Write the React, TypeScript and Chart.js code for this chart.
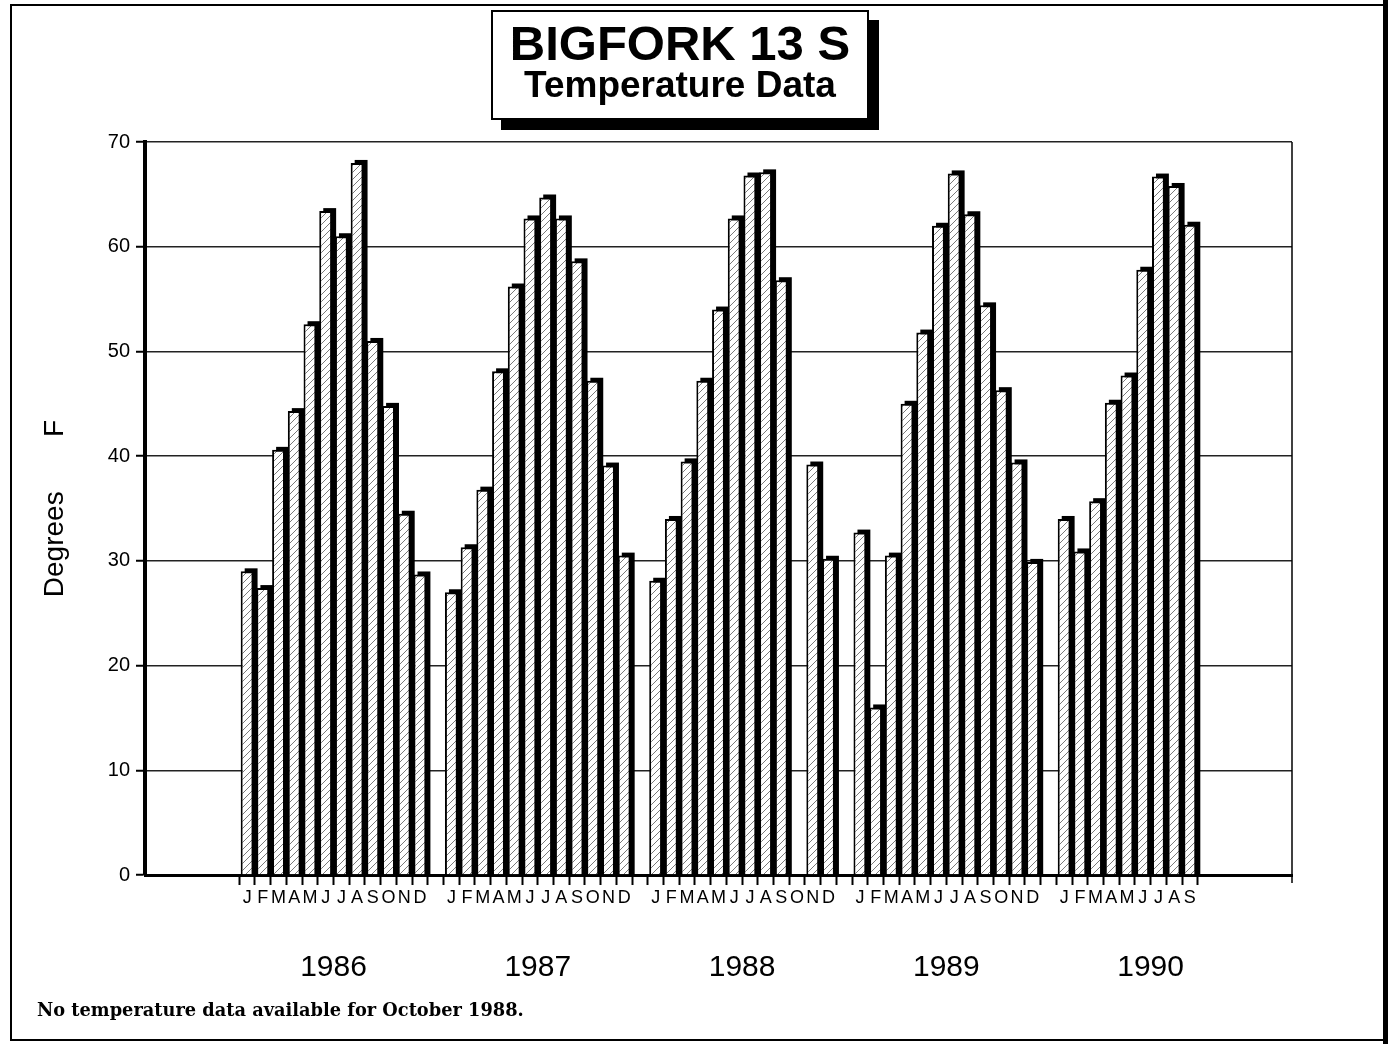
import React, { useEffect, useRef } from 'react';
import { Chart, registerables } from 'chart.js';

Chart.register(...registerables);

// ---- Data ----
const monthLetters = ['J', 'F', 'M', 'A', 'M', 'J', 'J', 'A', 'S', 'O', 'N', 'D'];
const years = ['1986', '1987', '1988', '1989', '1990'];
const temps1986 = [29.0, 27.4, 40.6, 44.3, 52.6, 63.4, 61.0, 68.0, 51.0, 44.8, 34.5, 28.7];
const temps1987 = [27.0, 31.3, 36.8, 48.1, 56.2, 62.7, 64.7, 62.7, 58.6, 47.2, 39.1, 30.5];
const temps1988 = [28.1, 34.0, 39.5, 47.2, 54.0, 62.7, 66.8, 67.1, 56.8, null, 39.2, 30.2];
const temps1989 = [32.7, 16.0, 30.5, 45.0, 51.8, 62.0, 67.0, 63.1, 54.4, 46.3, 39.4, 29.9];
const temps1990 = [34.0, 30.9, 35.7, 45.1, 47.7, 57.8, 66.7, 65.8, 62.1];
const yearSeries: (number | null)[][] = [temps1986, temps1987, temps1988, temps1989, temps1990];
const yTickValues = [0, 10, 20, 30, 40, 50, 60, 70];
const yTitle = 'Degrees       F';
const titleLine1 = 'BIGFORK 13 S';
const titleLine2 = 'Temperature Data';
const footnote = 'No temperature data available for October 1988.';

const LEADING_SLOTS = 6;
const TRAILING_SLOTS = 6;

const FONT = '"Liberation Sans", Arial, Helvetica, sans-serif';

// Build the category table for the library
const labels: string[] = [];
const values: (number | null)[] = [];
const yearCenters: { year: string; a: number; b: number }[] = [];
for (let i = 0; i < LEADING_SLOTS; i++) { labels.push(''); values.push(null); }
yearSeries.forEach((series, yi) => {
  const start = labels.length;
  series.forEach((v, mi) => { labels.push(monthLetters[mi]); values.push(v); });
  yearCenters.push({ year: years[yi], a: start + 5, b: start + 6 });
  if (yi < yearSeries.length - 1) { labels.push(''); values.push(null); }
});
const firstDataSlot = LEADING_SLOTS;
const lastDataSlotEdge = labels.length; // right edge of last data slot
for (let i = 0; i < TRAILING_SLOTS; i++) { labels.push(''); values.push(null); }

function makeHatch(ctx: CanvasRenderingContext2D): CanvasPattern | string {
  const c = document.createElement('canvas');
  c.width = 7; c.height = 7;
  const p = c.getContext('2d');
  if (!p) return '#fff';
  p.fillStyle = '#fff';
  p.fillRect(0, 0, 7, 7);
  p.strokeStyle = '#7a7a7a';
  p.lineWidth = 1;
  p.beginPath();
  p.moveTo(0, 7); p.lineTo(7, 0);
  p.moveTo(-2, 2); p.lineTo(2, -2);
  p.moveTo(5, 9); p.lineTo(9, 5);
  p.stroke();
  return ctx.createPattern(c, 'repeat') || '#fff';
}

const shadowPlugin = {
  id: 'barShadow',
  beforeDatasetsDraw(chart: any) {
    const meta = chart.getDatasetMeta(0);
    const data = chart.data.datasets[0].data;
    const ctx = chart.ctx;
    ctx.save();
    ctx.fillStyle = '#000';
    meta.data.forEach((bar: any, i: number) => {
      if (data[i] == null) return;
      const { x, y, base, width } = bar.getProps(['x', 'y', 'base', 'width'], true);
      ctx.fillRect(x - width / 2 + 4, y - 3, width, base - y + 3);
    });
    ctx.restore();
  },
  afterDraw(chart: any) {
    const ctx = chart.ctx;
    const xs = chart.scales.x;
    const area = chart.chartArea;
    ctx.save();
    // right frame of plot
    ctx.strokeStyle = '#000';
    ctx.lineWidth = 1.5;
    ctx.beginPath();
    ctx.moveTo(area.right, area.top);
    ctx.lineTo(area.right, area.bottom + 8);
    ctx.stroke();
    // year labels
    ctx.fillStyle = '#000';
    ctx.font = '30px ' + FONT;
    ctx.textAlign = 'center';
    ctx.textBaseline = 'middle';
    yearCenters.forEach((yc) => {
      const x = (xs.getPixelForValue(yc.a) + xs.getPixelForValue(yc.b)) / 2;
      ctx.fillText(yc.year, x, area.bottom + 93);
    });
    ctx.restore();
  },
};

export default function App() {
  const ref = useRef<HTMLCanvasElement | null>(null);

  useEffect(() => {
    const canvas = ref.current;
    if (!canvas) return;
    const ctx = canvas.getContext('2d');
    if (!ctx) return;
    const hatch = makeHatch(ctx);
    const chart = new Chart(canvas, {
      type: 'bar',
      data: {
        labels,
        datasets: [
          {
            data: values,
            backgroundColor: hatch as any,
            borderColor: '#000',
            borderWidth: 2,
            barPercentage: 0.82,
            categoryPercentage: 1.0,
          },
        ],
      },
      options: {
        responsive: false,
        animation: false,
        devicePixelRatio: 1,
        layout: { padding: { left: 0, top: 142, right: 1396 - 1292, bottom: 1044 - 875 - 60 } },
        plugins: { legend: { display: false }, tooltip: { enabled: false }, title: { display: false } },
        scales: {
          x: {
            afterFit: (s: any) => { s.height = 60; },
            ticks: {
              autoSkip: false,
              maxRotation: 0,
              minRotation: 0,
              color: '#000',
              font: { family: FONT, size: 18 },
              padding: 2,
            },
            grid: {
              offset: true,
              drawOnChartArea: false,
              drawTicks: true,
              tickLength: 10,
              tickWidth: 2,
              tickColor: (c: any) =>
                c.index >= firstDataSlot && c.index <= lastDataSlotEdge ? '#000' : 'rgba(0,0,0,0)',
            },
            border: { display: true, color: '#000', width: 3 },
          },
          y: {
            min: 0,
            max: 70,
            afterFit: (s: any) => { s.width = 145; },
            afterBuildTicks: (s: any) => { s.ticks = yTickValues.map((v) => ({ value: v })); },
            ticks: { color: '#000', font: { family: FONT, size: 20 }, padding: 6 },
            grid: { color: '#222', lineWidth: 1.5, tickLength: 9, tickColor: '#000', tickWidth: 2 },
            border: { display: true, color: '#000', width: 4 },
            title: {
              display: true,
              text: yTitle,
              color: '#000',
              font: { family: FONT, size: 28 },
              padding: { top: 38, bottom: 0 },
            },
          },
        },
      },
      plugins: [shadowPlugin],
    });
    return () => chart.destroy();
  }, []);

  return (
    <div style={{ position: 'absolute', left: 0, top: 0, width: 1396, height: 1044, background: '#fff', overflow: 'hidden' }}>
      <canvas ref={ref} width={1396} height={1044} style={{ position: 'absolute', left: 0, top: 0, width: 1396, height: 1044 }} />
      {/* outer frame */}
      <div style={{ position: 'absolute', left: 10, top: 4, width: 1378, height: 2, background: '#000' }} />
      <div style={{ position: 'absolute', left: 10, top: 4, width: 2, height: 1037, background: '#000' }} />
      <div style={{ position: 'absolute', left: 10, top: 1039, width: 1378, height: 2, background: '#000' }} />
      <div style={{ position: 'absolute', left: 1383, top: 0, width: 5, height: 1044, background: '#000' }} />
      {/* title box */}
      <div
        style={{
          position: 'absolute', left: 491, top: 10, width: 378, height: 110, boxSizing: 'border-box',
          border: '2px solid #000', background: '#fff', boxShadow: '10px 10px 0 #000',
          fontFamily: FONT, fontWeight: 'bold', color: '#000', textAlign: 'center',
        }}
      >
        <div style={{ position: 'absolute', left: 0, right: 0, top: 4, fontSize: 49, lineHeight: '54px', whiteSpace: 'nowrap' }}>{titleLine1}</div>
        <div style={{ position: 'absolute', left: 0, right: 0, top: 52, fontSize: 37, lineHeight: '42px', whiteSpace: 'nowrap' }}>{titleLine2}</div>
      </div>
      {/* footnote */}
      <div style={{ position: 'absolute', left: 37, top: 999, fontFamily: '"DejaVu Serif", "Liberation Serif", serif', fontWeight: 'bold', fontSize: 17.8, lineHeight: '22px', color: '#000', whiteSpace: 'nowrap' }}>
        {footnote}
      </div>
    </div>
  );
}
